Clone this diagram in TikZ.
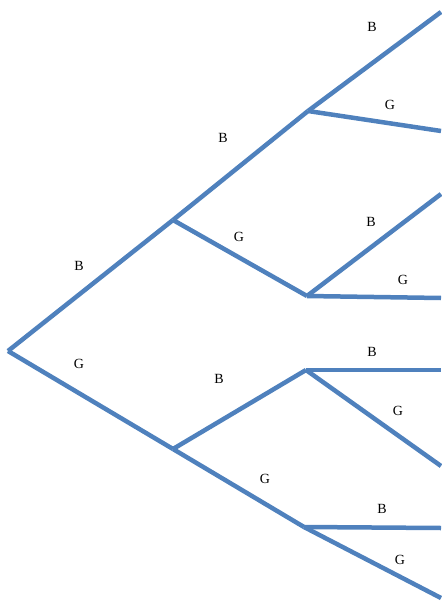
\documentclass[tikz,border=0pt]{standalone}
\usepackage{fontspec}
\setmainfont{Liberation Serif}
\usetikzlibrary{calc}
\definecolor{treeblue}{RGB}{79,129,189}

\begin{document}
\begin{tikzpicture}[x=1pt,y=-1pt,font=\fontsize{14}{16}\selectfont,
   branch/.style={treeblue,line width=4.5pt},
   lbl/.style={inner sep=0pt}]
   \useasboundingbox (0,0) rectangle (441,604);
% Branch points
   \coordinate (root) at (8,351);
   \coordinate (b)    at (173,220);
   \coordinate (g)    at (173,449);
   \coordinate (bb)   at (308,111);
   \coordinate (bg)   at (307,296);
   \coordinate (gb)   at (306,370);
   \coordinate (gg)   at (304,527);
% Ends at the right edge
   \coordinate (bbb) at (441,12);
   \coordinate (bbg) at (441,131);
   \coordinate (bgb) at (441,194);
   \coordinate (bgg) at (441,298);
   \coordinate (gbb) at (441,370);
   \coordinate (gbg) at (441,466);
   \coordinate (ggb) at (441,528);
   \coordinate (ggg) at (441,598);
% Branches
   \draw [branch] (root) -- (b);
   \draw [branch] (root) -- (g);
   \draw [branch] (b) -- (bb);
   \draw [branch] (b) -- (bg);
   \draw [branch] (g) -- (gb);
   \draw [branch] (g) -- (gg);
   \draw [branch] (bb) -- (bbb);
   \draw [branch] (bb) -- (bbg);
   \draw [branch] (bg) -- (bgb);
   \draw [branch] (bg) -- (bgg);
   \draw [branch] (gb) -- (gbb);
   \draw [branch] (gb) -- (gbg);
   \draw [branch] (gg) -- (ggb);
   \draw [branch] (gg) -- (ggg);
% Labels
   \node [lbl] (l-b)   at (79,266)  {B};
   \node [lbl] (l-g)   at (79,364)  {G};
   \node [lbl] (l-bb)  at (223,138) {B};
   \node [lbl] (l-bg)  at (239,237) {G};
   \node [lbl] (l-gb)  at (219,379) {B};
   \node [lbl] (l-gg)  at (265,479) {G};
   \node [lbl] (l-bbb) at (372,27)  {B};
   \node [lbl] (l-bbg) at (390,105) {G};
   \node [lbl] (l-bgb) at (371,222) {B};
   \node [lbl] (l-bgg) at (403,280) {G};
   \node [lbl] (l-gbb) at (372,352) {B};
   \node [lbl] (l-gbg) at (398,411) {G};
   \node [lbl] (l-ggb) at (382,509) {B};
   \node [lbl] (l-ggg) at (400,560) {G};
\end{tikzpicture}
\end{document}
